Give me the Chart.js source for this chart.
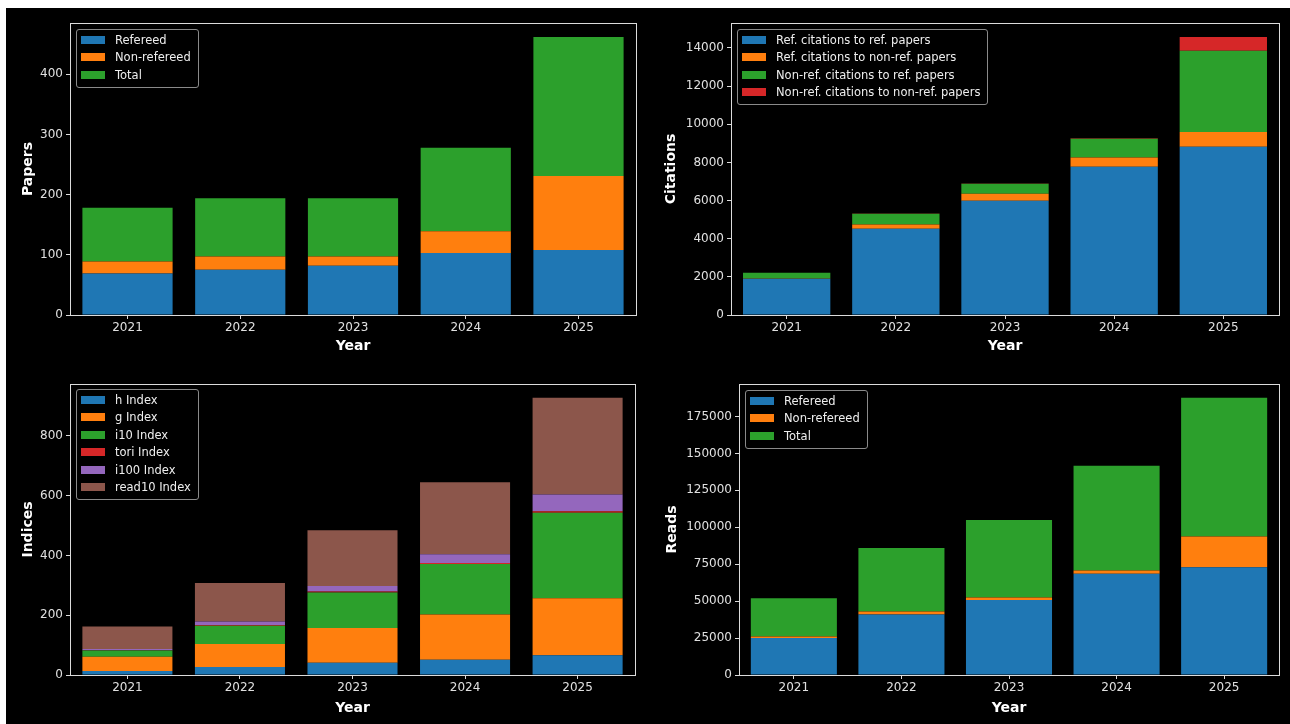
<!DOCTYPE html>
<html>
<head>
<meta charset="utf-8">
<title>Publication metrics</title>
<script src="https://cdn.jsdelivr.net/npm/chart.js@4.4.1/dist/chart.umd.min.js"></script>
<style>
  html, body { margin: 0; padding: 0; background: #fff; }
  #page { position: relative; width: 1290px; height: 724px; overflow: hidden; }
  #bg { position: absolute; left: 6px; top: 8px; right: 0; bottom: 0; background: #000; }
  .panel { position: absolute; width: 645px; height: 362px; }
  .panel canvas { position: absolute; left: 0; top: 0; }
  .legend {
    position: absolute; background: rgba(0,0,0,0.8); border: 1px solid #8a8a8a; border-radius: 3px;
    padding: 1px 7px 3px 4px; font: 11.5px "DejaVu Sans", sans-serif; color: #eee;
  }
  .legend .row { display: flex; align-items: center; height: 17.5px; white-space: nowrap; }
  .legend .sw { display: inline-block; width: 24px; height: 8px; margin-right: 10px; }
</style>
</head>
<body>
<div id="page">
  <div id="bg"></div>
  <div class="panel" style="left:0;top:0"><canvas id="papers" width="645" height="362"></canvas><div class="legend" id="papersLegend" style="left:76px;top:29px"></div></div>
  <div class="panel" style="left:645px;top:0"><canvas id="citations" width="645" height="362"></canvas><div class="legend" id="citationsLegend" style="left:92px;top:29px"></div></div>
  <div class="panel" style="left:0;top:362px"><canvas id="indices" width="645" height="362"></canvas><div class="legend" id="indicesLegend" style="left:76px;top:27px"></div></div>
  <div class="panel" style="left:645px;top:362px"><canvas id="reads" width="645" height="362"></canvas><div class="legend" id="readsLegend" style="left:100px;top:28px"></div></div>
</div>
<script>
const years = ['2021', '2022', '2023', '2024', '2025'];

// papers
const paperTicks = [0, 100, 200, 300, 400];
const papersRefereed = [69, 75, 82, 103, 108];
const papersNonRefereed = [20, 22, 15, 36, 123];
const papersTotal = [89, 97, 97, 139, 231];

// citations
const citationTicks = [0, 2000, 4000, 6000, 8000, 10000, 12000, 14000];
const citRefToRef = [1900, 4520, 5990, 7770, 8820];
const citRefToNonRef = [20, 230, 370, 490, 780];
const citNonRefToRef = [290, 560, 520, 980, 4260];
const citNonRefToNonRef = [5, 10, 20, 30, 720];

// indices
const indexTicks = [0, 200, 400, 600, 800];
const hIndex = [13, 27, 41, 51, 66];
const gIndex = [48, 77, 116, 151, 191];
const i10Index = [21, 61, 119, 169, 286];
const toriIndex = [1, 2, 3, 4, 5];
const i100Index = [4, 12, 19, 29, 56];
const read10Index = [75, 129, 186, 241, 323];

// reads
const readTicks = [0, 25000, 50000, 75000, 100000, 125000, 150000, 175000];
const readsRefereed = [25000, 41000, 50800, 68500, 73000];
const readsNonRefereed = [1000, 2000, 1700, 2300, 20800];
const readsTotal = [26000, 43000, 52500, 70800, 93800];

const C = { blue: '#1f77b4', orange: '#ff7f0e', green: '#2ca02c', red: '#d62728', purple: '#9467bd', brown: '#8c564b' };
const FONT = '"DejaVu Sans", sans-serif';
const AX = '#dcdcdc';

const frame = {
  id: 'frame',
  afterDraw(chart) {
    const { ctx, chartArea: a } = chart;
    ctx.save();
    ctx.strokeStyle = AX;
    ctx.lineWidth = 1;
    ctx.strokeRect(Math.round(a.left) + 0.5, Math.round(a.top) + 0.5, Math.round(a.right - a.left), Math.round(a.bottom - a.top));
    ctx.restore();
  }
};

function series(label, values, color) {
  return { label, data: values.map((v, i) => ({ x: i, y: v })), backgroundColor: color, borderWidth: 0 };
}

function makeChart(id, yTitle, yTicks, datasets, lay) {
  // matplotlib style limits: 5% headroom above the tallest stack
  const sums = years.map((_, i) => datasets.reduce((s, d) => s + d.data[i].y, 0));
  const yMax = Math.max(...sums) * 1.05;
  const chart = new Chart(document.getElementById(id), {
    type: 'bar',
    data: { datasets },
    options: {
      responsive: false,
      animation: false,
      categoryPercentage: 1,
      barPercentage: 0.8,
      layout: { padding: { left: lay.padLeft, top: lay.top, right: lay.right, bottom: 0 } },
      plugins: { legend: { display: false }, tooltip: { enabled: false } },
      scales: {
        x: {
          type: 'linear', stacked: true, min: -0.51, max: 4.51, offset: false,
          afterBuildTicks: s => { s.ticks = years.map((_, i) => ({ value: i })); },
          afterFit: s => { s.height = lay.xh; },
          grid: { offset: false, drawOnChartArea: false, drawTicks: true, tickLength: 4, color: AX },
          border: { display: false },
          ticks: { color: '#e0e0e0', font: { family: FONT, size: 12 }, padding: 2, maxRotation: 0, autoSkip: false,
                   callback: v => years[v] ?? '' },
          title: { display: true, text: 'Year', color: '#fff', font: { family: FONT, size: 14, weight: 'bold' },
                   padding: { top: 0, bottom: 7 } }
        },
        y: {
          stacked: true, min: 0, max: yMax,
          afterBuildTicks: s => { s.ticks = yTicks.map(v => ({ value: v })); },
          afterFit: s => { s.width = lay.yw; },
          grid: { drawOnChartArea: false, drawTicks: true, tickLength: 4, color: AX },
          border: { display: false },
          ticks: { color: '#e0e0e0', font: { family: FONT, size: 12 }, padding: 3, callback: v => String(v) },
          title: { display: true, text: yTitle, color: '#fff', font: { family: FONT, size: 14, weight: 'bold' },
                   padding: { top: 0, bottom: 0 } }
        }
      }
    },
    plugins: [frame]
  });

  const legend = document.getElementById(id + 'Legend');
  chart.data.datasets.forEach(d => {
    const row = document.createElement('div');
    row.className = 'row';
    const sw = document.createElement('span');
    sw.className = 'sw';
    sw.style.background = d.backgroundColor;
    const txt = document.createElement('span');
    txt.textContent = d.label;
    row.appendChild(sw);
    row.appendChild(txt);
    legend.appendChild(row);
  });
  return chart;
}

makeChart('papers', 'Papers', paperTicks, [
  series('Refereed', papersRefereed, C.blue),
  series('Non-refereed', papersNonRefereed, C.orange),
  series('Total', papersTotal, C.green)
], { padLeft: 20, yw: 50, top: 23, right: 9, xh: 47 });

makeChart('citations', 'Citations', citationTicks, [
  series('Ref. citations to ref. papers', citRefToRef, C.blue),
  series('Ref. citations to non-ref. papers', citRefToNonRef, C.orange),
  series('Non-ref. citations to ref. papers', citNonRefToRef, C.green),
  series('Non-ref. citations to non-ref. papers', citNonRefToNonRef, C.red)
], { padLeft: 18, yw: 68, top: 23, right: 11, xh: 47 });

makeChart('indices', 'Indices', indexTicks, [
  series('h Index', hIndex, C.blue),
  series('g Index', gIndex, C.orange),
  series('i10 Index', i10Index, C.green),
  series('tori Index', toriIndex, C.red),
  series('i100 Index', i100Index, C.purple),
  series('read10 Index', read10Index, C.brown)
], { padLeft: 20, yw: 50, top: 22, right: 10, xh: 49 });

makeChart('reads', 'Reads', readTicks, [
  series('Refereed', readsRefereed, C.blue),
  series('Non-refereed', readsNonRefereed, C.orange),
  series('Total', readsTotal, C.green)
], { padLeft: 19, yw: 75, top: 22, right: 11, xh: 49 });
</script>
</body>
</html>
